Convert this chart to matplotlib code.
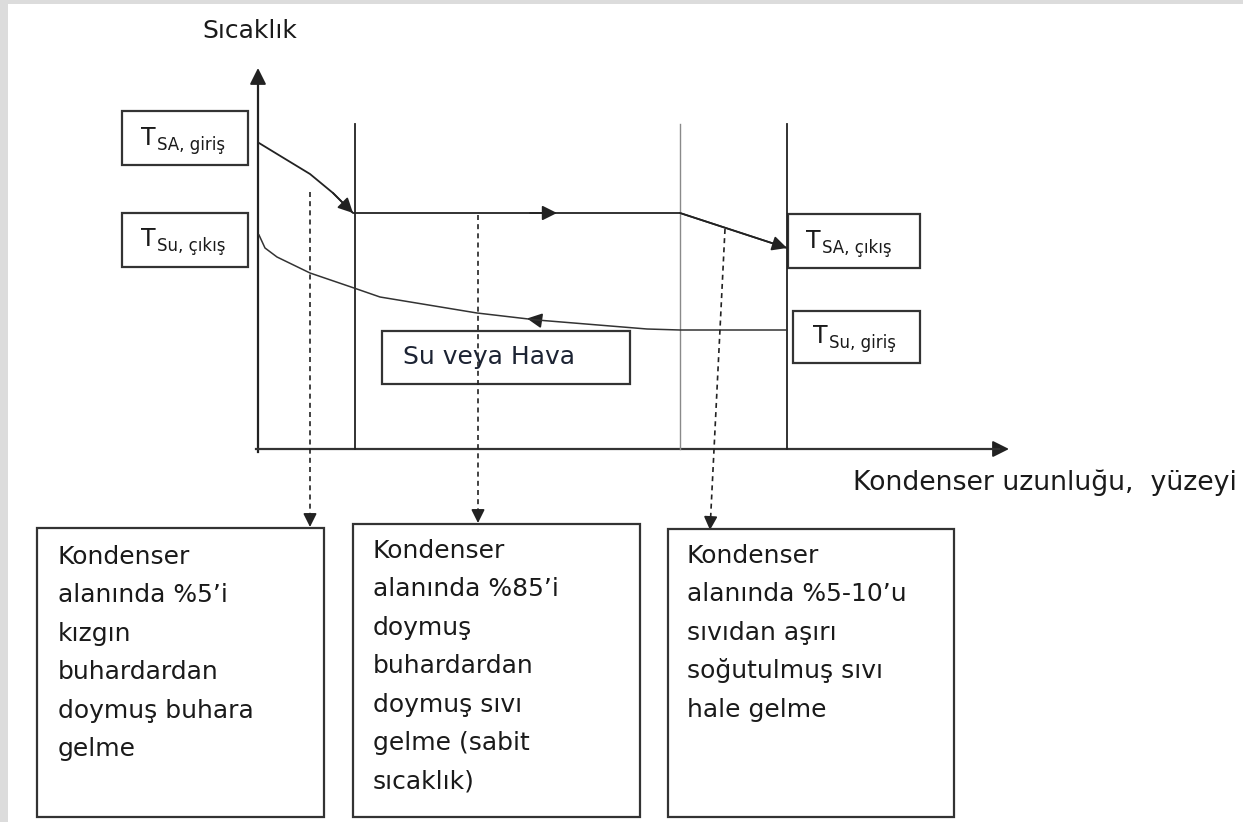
import matplotlib
matplotlib.use("Agg")
import matplotlib.pyplot as plt
from matplotlib.patches import Rectangle, FancyArrowPatch

# --- diagram geometry (pixel units, y grows downward) ---
W, H = 1243, 822

y_axis = dict(x=258, y0=452, y1=68)
x_axis = dict(y=449, x0=256, x1=1009)

# zone boundaries
zone_x = [355, 680, 787]
zone_top = 124
zone_color = ["#222222", "#8a8a8a", "#222222"]
zone_lw = [1.3, 1.0, 1.3]

# refrigerant (SA) temperature line
sa_x = [259, 282, 310, 333, 353, 680, 787]
sa_y = [143, 157, 174, 193, 213, 213, 248]

# water / air (Su) temperature line
su_x = [259, 265, 277, 310, 354, 380, 477, 537, 647, 680, 787]
su_y = [235, 248, 257, 273, 288, 297, 313, 320, 329, 330, 330]

# dashed pointers: (x_start, y_start, x_end, y_end)
pointers = [(310, 192, 310, 527), (478, 215, 478, 523), (725, 229, 710, 530)]

# temperature labels: box (x0, y0, x1, y1), T position, subscript
t_boxes = [(122, 111, 248, 165), (122, 213, 248, 267),
           (788, 214, 920, 268), (793, 311, 920, 363)]
t_pos = [(141, 145), (141, 246), (806, 248), (813, 343)]
t_subs = ["SA, giriş", "Su, çıkış", "SA, çıkış", "Su, giriş"]

medium_box = (382, 331, 630, 384)
medium_label = "Su veya Hava"

# description boxes
desc_boxes = [(37, 528, 324, 817), (353, 524, 640, 817), (668, 529, 954, 817)]
desc_x = [58, 373, 687]
desc_base = [564, 558, 563]
desc_step = 38.4
desc_lines = [
    ["Kondenser", "alanında %5’i", "kızgın", "buhardardan",
     "doymuş buhara", "gelme"],
    ["Kondenser", "alanında %85’i", "doymuş", "buhardardan",
     "doymuş sıvı", "gelme (sabit", "sıcaklık)"],
    ["Kondenser", "alanında %5-10’u", "sıvıdan aşırı",
     "soğutulmuş sıvı", "hale gelme"],
]

y_label = "Sıcaklık"
x_label = "Kondenser uzunluğu,  yüzeyi"

ink = "#1a1a1a"
fs = 18

fig = plt.figure(figsize=(W / 100, H / 100), dpi=100)
ax = fig.add_axes([0, 0, 1, 1])
ax.set_xlim(0, W)
ax.set_ylim(H, 0)
ax.axis("off")

# grey frame strip of the screenshot
ax.add_patch(Rectangle((0, 0), W, 4, color="#dcdcdc", lw=0))
ax.add_patch(Rectangle((0, 0), 8, H, color="#dcdcdc", lw=0))


def head(x0, y0, x1, y1, lw=1.2, color="#222222", size=10):
    ax.add_patch(FancyArrowPatch((x0, y0), (x1, y1),
                                 arrowstyle="-|>,head_length=0.9,head_width=0.45",
                                 mutation_scale=size, color=color, lw=lw,
                                 shrinkA=0, shrinkB=0))


def box(b, lw=1.6):
    x0, y0, x1, y1 = b
    ax.add_patch(Rectangle((x0, y0), x1 - x0, y1 - y0, fill=False,
                           ec="#333333", lw=lw))


# axes with arrows
ax.plot([y_axis["x"]] * 2, [y_axis["y0"], y_axis["y1"] + 10], color="#222222", lw=1.6)
head(y_axis["x"], y_axis["y1"] + 14, y_axis["x"], y_axis["y1"], lw=1.4, size=11)
ax.plot([x_axis["x0"], x_axis["x1"] - 10], [x_axis["y"]] * 2, color="#333333", lw=1.6)
head(x_axis["x1"] - 14, x_axis["y"], x_axis["x1"], x_axis["y"], lw=1.4, size=11)

for zx, zc, zl in zip(zone_x, zone_color, zone_lw):
    ax.plot([zx, zx], [zone_top, x_axis["y"]], color=zc, lw=zl)

# SA line with arrowheads
ax.plot(sa_x, sa_y, color="#222222", lw=1.3)
head(sa_x[3], sa_y[3], sa_x[4], sa_y[4])
head(530, sa_y[4], 557, sa_y[5])
head(sa_x[5], sa_y[5], sa_x[6], sa_y[6])

# Su line with arrowhead pointing back
ax.plot(su_x, su_y, color="#333333", lw=1.1)
head(su_x[7], su_y[7], su_x[6] + 50, su_y[6] + 5.5)

# dashed pointers
for x0, y0, x1, y1 in pointers:
    f = 10 / (y1 - y0)
    xm, ym = x1 - (x1 - x0) * f, y1 - (y1 - y0) * f
    ax.plot([x0, xm], [y0, ym], color="#222222", lw=1.2, ls=(0, (3, 2.5)))
    head(xm, ym, x1, y1, size=9)

# labels
ax.text(202, 38, y_label, fontsize=fs, color=ink, va="baseline")
ax.text(853, 490, x_label, fontsize=19.3, color=ink, va="baseline")

renderer = fig.canvas.get_renderer()
for b, (tx, ty), sub in zip(t_boxes, t_pos, t_subs):
    box(b)
    t = ax.text(tx, ty, "T", fontsize=17, color=ink, va="baseline")
    ext = t.get_window_extent(renderer)
    ax.text(ext.x1 + 1, ty + 5, sub, fontsize=12, color=ink, va="baseline")

box(medium_box)
ax.text(403, 364, medium_label, fontsize=fs, color="#1c2333", va="baseline")

for b, x, y0, lines in zip(desc_boxes, desc_x, desc_base, desc_lines):
    box(b)
    for i, line in enumerate(lines):
        ax.text(x, y0 + i * desc_step, line, fontsize=fs, color=ink,
                va="baseline")

fig.savefig("out.png", dpi=100)
